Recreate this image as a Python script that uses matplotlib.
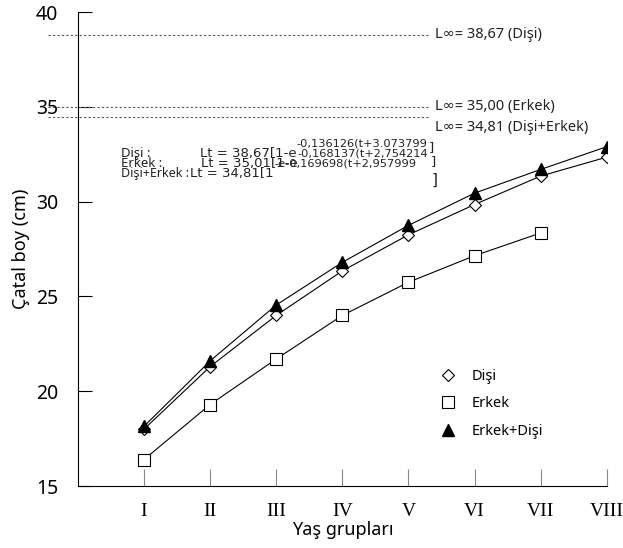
import matplotlib.pyplot as plt
from matplotlib.lines import Line2D

# data
age_labels = ["I", "II", "III", "IV", "V", "VI", "VII", "VIII"]
disi = [18.0, 21.3, 24.0, 26.35, 28.25, 29.85, 31.35, 32.35]
erkek = [16.4, 19.3, 21.7, 24.0, 25.75, 27.15, 28.35]
toplam = [18.15, 21.6, 24.55, 26.8, 28.75, 30.45, 31.7, 32.9]

linf_lines = [38.8, 35.0, 34.45]
linf_labels = ["L∞= 38,67 (Dişi)", "L∞= 35,00 (Erkek)", "L∞= 34,81 (Dişi+Erkek)"]
linf_label_y = [38.8, 35.0, 33.9]

plt.rcParams["font.family"] = ["Noto Sans", "DejaVu Sans"]

fig = plt.figure(figsize=(6.23, 5.48), dpi=100)
ax = fig.add_axes([0.125, 0.113, 0.849, 0.865])

x_all = list(range(1, len(age_labels) + 1))

ax.plot(x_all[:len(erkek)], erkek, color="black", lw=0.8, marker="s", ms=8,
        mfc="white", mec="black", mew=0.8)
ax.plot(x_all, disi, color="black", lw=0.8, marker="D", ms=6.5,
        mfc="white", mec="black", mew=0.8)
ax.plot(x_all, toplam, color="black", lw=0.8, marker="^", ms=8,
        mfc="black", mec="black")

# L-infinity dashed lines and labels
for v in linf_lines:
    ax.plot([-0.057, 0.665], [v, v], transform=ax.get_yaxis_transform(),
            ls=(0, (2, 2)), color="#555555", lw=0.8, clip_on=False)
for v, lab in zip(linf_label_y, linf_labels):
    ax.text(0.675, v, lab, transform=ax.get_yaxis_transform(),
            va="center", ha="left", fontsize=10.5, color="#222222")

# growth equations (wide font for the formula parts)
txt = dict(color="#222222", va="center", ha="left")
wide = dict(family="DejaVu Sans", **txt)
ax.text(0.65, 32.56, "Dişi :", fontsize=9.5, **txt)
ax.text(0.65, 32.03, "Erkek :", fontsize=9.5, **txt)
ax.text(0.65, 31.50, "Dişi+Erkek :", fontsize=9.0, **txt)
ax.text(1.84, 32.56, "Lt = 38,67[1-e", fontsize=9.5, **wide)
ax.text(1.86, 32.03, "Lt = 35,01[1-e", fontsize=9.5, **wide)
ax.text(1.69, 31.50, "Lt = 34,81[1", fontsize=9.5, **wide)
ax.text(3.31, 33.08, "-0,136126(t+3.073799", fontsize=8.2, **wide)
ax.text(3.32, 32.56, "-0,168137(t+2,754214", fontsize=8.2, **wide)
ax.text(2.98, 32.03, "-e-0,169698(t+2,957999", fontsize=8.2, **wide)
ax.text(5.31, 32.85, "]", fontsize=9.5, **wide)
ax.text(5.34, 32.10, "]", fontsize=9.5, **wide)
ax.text(5.35, 31.15, "]", fontsize=11, **wide)

# legend
handles = [
    Line2D([], [], ls="none", marker="D", ms=6.5, mfc="white", mec="black", mew=0.8),
    Line2D([], [], ls="none", marker="s", ms=8, mfc="white", mec="black", mew=0.8),
    Line2D([], [], ls="none", marker="^", ms=8, mfc="black", mec="black"),
]
ax.legend(handles, ["Dişi", "Erkek", "Erkek+Dişi"], frameon=False, fontsize=10.5,
          loc="lower left", bbox_to_anchor=(0.662, 0.072), labelspacing=0.85,
          handlelength=1.0, handletextpad=1.1)

ax.set_xlim(0, 8)
ax.set_ylim(15, 40)
ax.set_yticks([15, 20, 25, 30, 35, 40])
ax.set_xticks(x_all)
ax.set_xticklabels(age_labels, family="Liberation Serif", fontsize=14)
ax.tick_params(axis="y", direction="in", length=10, labelsize=14, pad=14, width=0.8)
ax.tick_params(axis="x", direction="in", length=12, color="#888888", pad=12, width=0.8)

ax.spines["top"].set_visible(False)
ax.spines["right"].set_visible(False)
ax.set_xlabel("Yaş grupları", fontsize=13, labelpad=1)
ax.set_ylabel("Çatal boy (cm)", fontsize=13, labelpad=4)

fig.savefig("out.png", dpi=100)
